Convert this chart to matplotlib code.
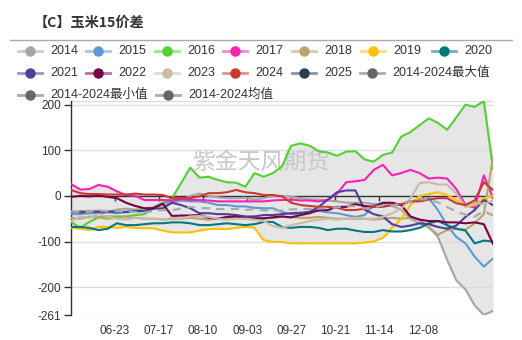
import matplotlib
matplotlib.use('Agg')
import matplotlib.pyplot as plt
from matplotlib.lines import Line2D
import numpy as np
import pandas as pd

plt.rcParams['font.family'] = ['Liberation Sans', 'Noto Sans CJK SC']

# ── Dữ liệu ──────────────────────────────────────────────────────────────────
START_DATE = pd.Timestamp('2024-05-30')
DAYS = list(range(0, 231, 5))          # ngày kể từ 05-30, mỗi 5 ngày một điểm
XTICK_LABELS = ['06-23', '07-17', '08-10', '09-03', '09-27', '10-21', '11-14', '12-08']
YTICKS = [200, 100, 0, -100, -200]

YEARS = ['2014', '2015', '2016', '2017', '2018', '2019', '2020',
         '2021', '2022', '2023', '2024', '2025']
COLORS = ['#a5a5a5', '#5b9bd5', '#52d130', '#fb1fb4', '#b4a66c', '#ffc000', '#00787e',
          '#4e3d9a', '#7a0046', '#c9bca5', '#c8392f', '#2b3e50']
BAND_NAMES = ['2014-2024最大值', '2014-2024最小值', '2014-2024均值']
BAND_COLOR = '#666666'

S2014 = [-35, -33, -33, -32, -35, -30, -28, -30, -28, -25,
         -20, -15, -10, 0, 5, 0, -3, -5, -5, -4,
         -8, -5, 0, 0, -2, -5, -8, -8, -10, -12,
         -15, -15, -15, -18, -20, -22, -30, -50, -60, -68,
         -90, -140, -185, -205, -240, -261, -252]
S2015 = [-40, -40, -38, -38, -36, -38, -36, -35, -33, -25,
         -15, -12, -10, -12, -12, -15, -20, -20, -23, -23,
         -26, -27, -27, -35, -40, -40, -35, -33, -36, -38,
         -42, -46, -42, -20, -16, -16, -20, -12, -8, -5,
         -31, -65, -90, -104, -133, -155, -137]
S2016 = [-57, -70, -57, -47, -45, -45, -45, -42, -40, -27,
         -16, -5, 28, 62, 40, 42, 35, 30, 29, 20,
         50, 42, 50, 65, 110, 115, 110, 98, 95, 88,
         97, 98, 80, 75, 90, 95, 130, 140, 155, 170,
         160, 145, 172, 200, 195, 208, 60]
S2017 = [26, 14, 15, 24, 20, 10, 2, 0, -9, -9,
         -9, -10, -7, -9, -9, -10, -12, -12, -12, -12,
         -12, -12, -10, -9, -8, -10, -10, -12, -9, 5,
         30, 32, 35, 57, 68, 45, 50, 57, 50, 38,
         40, 38, 15, -20, -26, 45, -5]
S2018 = [-48, -50, -45, -47, -50, -48, -46, -48, -50, -50,
         -52, -50, -50, -48, -50, -52, -50, -48, -48, -50,
         -52, -50, -48, -46, -47, -48, -48, -46, -48, -50,
         -50, -50, -50, -52, -50, -48, -50, -48, -52, -70,
         -85, -75, -72, -74, -60, -40, 85]
S2019 = [-70, -72, -75, -68, -68, -70, -68, -70, -71, -71,
         -76, -80, -80, -80, -76, -73, -72, -73, -70, -68,
         -70, -97, -101, -101, -104, -104, -104, -104, -104, -104,
         -104, -104, -102, -100, -92, -70, -50, -20, 0, 4,
         8, 2, -9, -24, -20, -5, 0]
S2020 = [-68, -68, -70, -75, -72, -60, -64, -64, -62, -60,
         -60, -58, -58, -60, -64, -64, -62, -60, -62, -64,
         -62, -57, -57, -68, -70, -68, -68, -70, -75, -72,
         -72, -76, -79, -79, -75, -78, -78, -75, -70, -60,
         -55, -64, -72, -76, -104, -98, -100]
S2021 = [-35, -36, -35, -35, -34, -35, -35, -33, -33, -28,
         -27, -15, -20, -27, -38, -38, -40, -40, -42, -45,
         -45, -42, -42, -40, -38, -37, -35, -24, -8, 8,
         12, 12, -30, -40, -45, -62, -68, -65, -60, -62,
         -68, -72, -65, -46, -31, -9, -20]
S2022 = [-2, 0, -1, 1, -2, -5, -15, -22, -27, -27,
         -17, -44, -43, -43, -42, -48, -50, -46, -45, -49,
         -49, -49, -47, -45, -47, -42, -38, -31, -31, -24,
         -24, -18, -22, -24, -15, -15, -20, -45, -52, -55,
         -55, -58, -58, -60, -58, -62, -105]
S2023 = [-55, -45, -48, -40, -45, -50, -52, -48, -50, -50,
         -52, -48, -50, -45, -44, -46, -50, -52, -50, -50,
         -52, -55, -66, -70, -64, -60, -55, -52, -50, -52,
         -50, -48, -50, -50, -46, -38, -28, -5, 28, 30,
         25, 25, 5, -24, -15, -18, -10]
S2024 = [13, 6, 4, 4, 3, 3, 3, 5, 3, 3,
         2, -5, -5, -5, -1, 6, 6, 8, 13, 8,
         6, 2, 2, -1, -15, -20, -22, -24, -24, -26,
         -31, -31, -28, -24, -24, -20, -18, -12, -12, -8,
         -5, -5, -16, -20, -10, 30, 13]
S2025 = []   # hợp đồng mới, chưa có dữ liệu trong khoảng này

SERIES = [S2014, S2015, S2016, S2017, S2018, S2019, S2020,
          S2021, S2022, S2023, S2024, S2025]

# ── Tính dải max/min/trung bình 2014-2024 ────────────────────────────────────
hist = np.array(SERIES[:11], dtype=float)
band_max = hist.max(axis=0)
band_min = hist.min(axis=0)
band_mean = hist.mean(axis=0)
ymin, ymax = band_min.min(), band_max.max()

tick_pos = [(pd.Timestamp(f'2024-{t}') - START_DATE).days for t in XTICK_LABELS]

# ── Vẽ ───────────────────────────────────────────────────────────────────────
fig = plt.figure(figsize=(5.22, 3.40), dpi=100, facecolor='white')
ax = fig.add_axes([71 / 522, 25 / 340, 422 / 522, 214 / 340])

ax.fill_between(DAYS, band_min, band_max, color='#e6e6e6', lw=0, zorder=1)

for yv in YTICKS + [ymin, ymax]:
    if yv != 0:
        ax.axhline(yv, color='#dcdcdc', lw=1, zorder=2)
ax.axhline(0, color='#333333', lw=1, zorder=2.5)
ax.vlines(tick_pos, -11, 0, color='#333333', lw=1, zorder=2.5)

ax.text(0.45, 0.715, '紫金天风期货', transform=ax.transAxes, ha='center', va='center',
        fontsize=16.5, color='#c8c8c8', zorder=2.6)

for vals, c in zip(SERIES, COLORS):
    if len(vals) == 0:
        continue
    ax.plot(DAYS[:len(vals)], vals, color=c, lw=1.5, zorder=3)

ax.plot(DAYS, band_mean, color='#a8a8a8', lw=1.5, ls=(0, (4, 3)), zorder=4)

ax.set_xlim(DAYS[0], DAYS[-1])
ax.set_ylim(ymin, ymax)
ax.set_xticks(tick_pos)
ax.set_xticklabels(XTICK_LABELS)
ax.set_yticks(YTICKS + [ymin])
ax.set_yticklabels([str(int(v)) for v in YTICKS + [ymin]])
ax.tick_params(axis='x', length=0, pad=7, labelsize=8.5, colors='#333333')
ax.tick_params(axis='y', length=5, width=1, pad=2, labelsize=8.5,
               colors='#333333')
for s in ['top', 'right', 'bottom']:
    ax.spines[s].set_visible(False)
ax.spines['left'].set_color('#333333')
ax.spines['left'].set_linewidth(1)

# ── Tiêu đề + chú giải (toạ độ pixel) ────────────────────────────────────────
lax = fig.add_axes([0, 0, 1, 1], zorder=10)
lax.set_xlim(0, 522)
lax.set_ylim(340, 0)
lax.axis('off')

lax.text(34, 23, '【C】玉米15价差', fontsize=10.2, fontweight='bold',
         color='#333333', va='center', ha='left',
         family=['Noto Sans CJK SC', 'DejaVu Sans'])
lax.add_line(Line2D([10, 512], [40, 40], color='#aaaaaa', lw=1))

legend_labels = YEARS + BAND_NAMES
legend_colors = COLORS + [BAND_COLOR] * 3
legend_pos = [(30, 51), (98, 51), (167, 51), (235, 51), (304, 51), (373, 51), (444, 51),
              (30, 73), (98, 73), (167, 73), (235, 73), (304, 73), (372, 73),
              (30, 95), (168, 95)]
for lab, c, (x, y) in zip(legend_labels, legend_colors, legend_pos):
    lax.plot([x - 12, x + 12], [y, y], color=c, lw=2, alpha=0.55)
    lax.plot(x, y, 'o', ms=6.5, color=c)
    lax.text(x + 20, y, lab, va='center', ha='left', fontsize=9, color='#333333')

fig.savefig('out.png', dpi=100, facecolor='white')
